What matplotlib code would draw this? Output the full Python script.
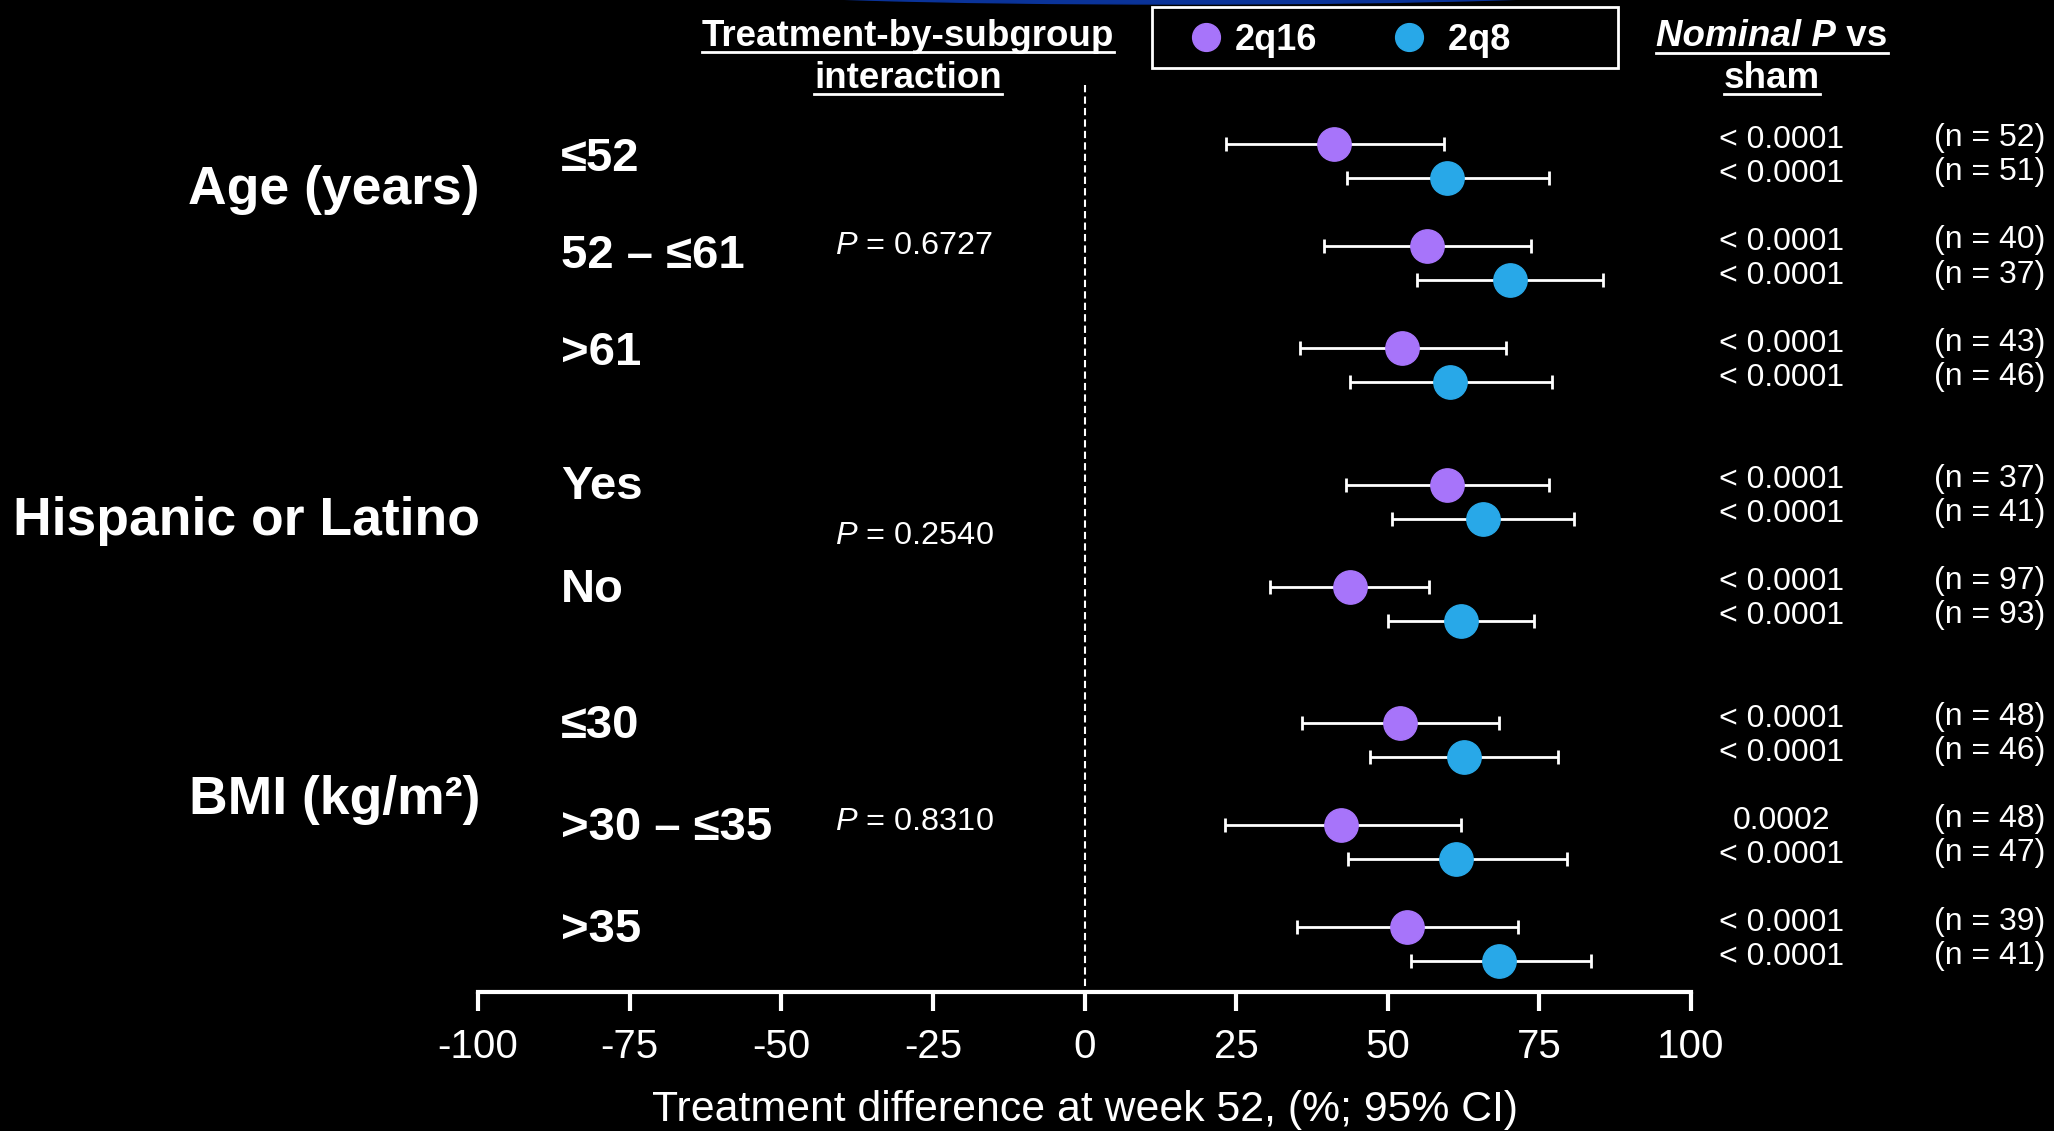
import matplotlib.pyplot as plt
import numpy as np
from matplotlib.lines import Line2D
from matplotlib.patches import Ellipse, Rectangle
from matplotlib.transforms import blended_transform_factory

plt.rcParams['font.family'] = ['Liberation Sans', 'DejaVu Sans']
plt.rcParams['axes.unicode_minus'] = False
plt.rcParams['mathtext.fontset'] = 'custom'
plt.rcParams['mathtext.it'] = 'Liberation Sans:italic'
plt.rcParams['mathtext.rm'] = 'Liberation Sans'

# Data
groups = ["Age (years)", "Hispanic or Latino", "BMI (kg/m²)"]
group_sizes = [3, 2, 3]
subgroups = ["≤52", "52 – ≤61", ">61", "Yes", "No", "≤30", ">30 – ≤35", ">35"]
interaction_p = ["0.6727", "0.2540", "0.8310"]

est_2q16 = np.array([41.2, 56.4, 52.4, 59.8, 43.7, 52.0, 42.3, 53.1])
lo_2q16 = np.array([23.3, 39.5, 35.5, 43.1, 30.6, 35.9, 23.1, 35.0])
hi_2q16 = np.array([59.2, 73.6, 69.5, 76.6, 56.8, 68.3, 62.0, 71.4])
est_2q8 = np.array([59.8, 70.1, 60.3, 65.7, 62.0, 62.5, 61.3, 68.4])
lo_2q8 = np.array([43.2, 54.8, 43.7, 50.7, 50.0, 47.1, 43.5, 53.8])
hi_2q8 = np.array([76.6, 85.5, 77.0, 80.7, 74.1, 78.1, 79.5, 83.5])

p_2q16 = ["< 0.0001", "< 0.0001", "< 0.0001", "< 0.0001", "< 0.0001", "< 0.0001", "0.0002", "< 0.0001"]
p_2q8 = ["< 0.0001"] * 8
n_2q16 = [52, 40, 43, 37, 97, 48, 48, 39]
n_2q8 = [51, 37, 46, 41, 93, 46, 47, 41]

c16 = '#a774fa'
c8 = '#28a8e8'

# row layout: pairs 1 apart, subgroups 3 apart, extra gap between groups
rows = []
pos = 0
for size in group_sizes:
    for _ in range(size):
        rows.append(pos)
        pos += 3
    pos += 1
y16 = np.array(rows, dtype=float)
y8 = y16 + 1
group_y = [1.35, 11.07, 19.25]
inter_y = [3.0, 11.5, 19.9]
label_off = [0.45, 0.3, 0.14, 0.08, 0.08, 0.1, 0.08, 0.08]

W, H = 2054, 1131
fig = plt.figure(figsize=(W / 100, H / 100), dpi=100, facecolor='black')
ax = fig.add_axes([478 / W, 1 - 992 / H, (1691 - 478) / W, (992 - 76) / H])
ax.set_facecolor('black')

ax.vlines(0, -1.75, 24.9, colors='white', linestyles=(0, (3.5, 2)), linewidth=1.5, zorder=1)

ax.errorbar(est_2q16, y16, xerr=[est_2q16 - lo_2q16, hi_2q16 - est_2q16], fmt='o',
            color=c16, ms=24, mec=c16, ecolor='white', elinewidth=2, capsize=5, capthick=2, zorder=3)
ax.errorbar(est_2q8, y8, xerr=[est_2q8 - lo_2q8, hi_2q8 - est_2q8], fmt='o',
            color=c8, ms=24, mec=c8, ecolor='white', elinewidth=2, capsize=5, capthick=2, zorder=3)

ax.set_xlim(-100, 100)
ax.set_ylim(24.9, -2.0)
ax.set_xticks(np.arange(-100, 101, 25))
ax.set_yticks([])
for s in ['left', 'top', 'right']:
    ax.spines[s].set_visible(False)
ax.spines['bottom'].set_color('white')
ax.spines['bottom'].set_linewidth(3)
ax.tick_params(axis='x', colors='white', length=14, width=3, labelsize=29, pad=12)
ax.set_xlabel("Treatment difference at week 52, (%; 95% CI)", color='white', fontsize=30.8, labelpad=17)

# text columns
tr = blended_transform_factory(fig.transFigure, ax.transData)
for g, gy in zip(groups, group_y):
    ax.text(480 / W, gy, g, transform=tr, ha='right', va='center', color='white',
            fontsize=38.5, fontweight='bold')
for s, yy, off in zip(subgroups, y16, label_off):
    ax.text(561 / W, yy + off, s, transform=tr, ha='left', va='center', color='white',
            fontsize=34, fontweight='bold')
for p, iy in zip(interaction_p, inter_y):
    ax.text(914 / W, iy, "$P$ = " + p, transform=tr, ha='center', va='center', color='white', fontsize=23.4)

for pa, pb, na, nb, ya, yb in zip(p_2q16, p_2q8, n_2q16, n_2q8, y16, y8):
    ax.text(1782 / W, ya - 0.13, pa, transform=tr, ha='center', va='center', color='white', fontsize=23)
    ax.text(1782 / W, yb - 0.13, pb, transform=tr, ha='center', va='center', color='white', fontsize=23)
    ax.text(2045 / W, ya - 0.17, f"(n = {na})", transform=tr, ha='right', va='center', color='white', fontsize=23)
    ax.text(2045 / W, yb - 0.17, f"(n = {nb})", transform=tr, ha='right', va='center', color='white', fontsize=23)

# headers with underline
t1 = fig.text(908 / W, 1 - 36 / H, "Treatment-by-subgroup", ha='center', va='center', color='white',
              fontsize=26.5, fontweight='bold')
t2 = fig.text(908 / W, 1 - 78 / H, "interaction", ha='center', va='center', color='white',
              fontsize=26.5, fontweight='bold')
t3 = fig.text(0, 1 - 37 / H, "Nominal P", ha='left', va='center', color='white',
              fontsize=26.5, fontweight='bold', fontstyle='italic')
t4 = fig.text(0, 1 - 37 / H, " vs", ha='left', va='center', color='white', fontsize=26.5, fontweight='bold')
t5 = fig.text(1772 / W, 1 - 78 / H, "sham", ha='center', va='center', color='white',
              fontsize=26.5, fontweight='bold')

fig.canvas.draw()
r = fig.canvas.get_renderer()
w3 = t3.get_window_extent(r).width
w4 = t4.get_window_extent(r).width
x0 = 1772 - (w3 + w4) / 2
t3.set_x(x0 / W)
t4.set_x((x0 + w3) / W)
fig.canvas.draw()


def underline(*texts):
    bbs = [t.get_window_extent(r) for t in texts]
    xa = min(b.x0 for b in bbs)
    xb = max(b.x1 for b in bbs)
    yb = min(b.y0 for b in bbs) + 2
    fig.add_artist(Line2D([xa / W, xb / W], [yb / H, yb / H], color='white', lw=2,
                          transform=fig.transFigure))


underline(t1)
underline(t2)
underline(t3, t4)
underline(t5)

# legend: frame drawn as a box, entries from the library legend
fig.add_artist(Rectangle((1152 / W, 1 - 68 / H), (1618 - 1152) / W, 61 / H, facecolor='black',
                         edgecolor='white', lw=2, transform=fig.transFigure))
handles = [Line2D([], [], marker='o', ls='none', color=c16, ms=20),
           Line2D([], [], marker='o', ls='none', color=c8, ms=20)]
leg = fig.legend(handles, ['2q16', ' 2q8'], loc='center left', bbox_to_anchor=(1188 / W, 1 - 40 / H),
                 ncol=2, frameon=False, prop={'weight': 'bold', 'size': 26}, labelcolor='white',
                 handletextpad=0.3, columnspacing=2.05, borderpad=0, borderaxespad=0, handlelength=1.0)

# blue band at the top of the slide
fig.add_artist(Ellipse((1180 / W, 1 + 10 / H), 900 / W, 28 / H, color='#0a3399',
                       transform=fig.transFigure))

fig.savefig('out.png', dpi=100, facecolor='black')
